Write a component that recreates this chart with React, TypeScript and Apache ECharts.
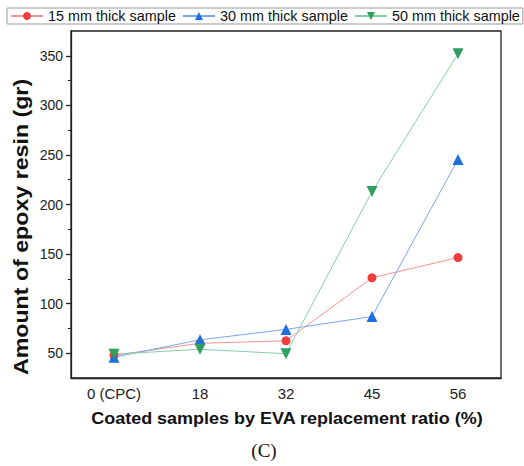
import React, { useEffect, useRef } from 'react';
import * as echarts from 'echarts';

const categories = ['0 (CPC)', '18', '32', '45', '56'];
const seriesNames = ['15 mm thick sample', '30 mm thick sample', '50 mm thick sample'];
const sample15 = [48, 60, 62.5, 126, 146.5];
const sample30 = [46, 63.5, 74, 87, 245.5];
const sample50 = [49, 54, 49.5, 213, 352];
const yMajorTicks = [50, 100, 150, 200, 250, 300, 350];
const yMinorTicks = [75, 125, 175, 225, 275, 325];

const FONT = '"Liberation Sans", Arial, sans-serif';

export default function App() {
  const ref = useRef<HTMLDivElement>(null);
  useEffect(() => {
    document.body.style.margin = '0';
    const chart = echarts.init(ref.current!, null, { renderer: 'svg' });
    const mk = (name: string, data: number[], marker: string, line: string, symbol: string, size: number, rotate = 0) => ({
      name,
      type: 'line',
      data,
      symbol,
      symbolSize: size,
      symbolRotate: rotate,
      showAllSymbol: true,
      itemStyle: { color: marker },
      lineStyle: { color: line, width: 1 },
      emphasis: { disabled: true },
    });
    chart.setOption({
      animation: false,
      backgroundColor: '#fff',
      legend: {
        left: 7,
        top: 8,
        padding: [1, 3],
        itemWidth: 32,
        itemHeight: 10,
        itemGap: 6,
        borderColor: '#999',
        borderWidth: 1,
        textStyle: { fontFamily: FONT, fontSize: 14.4, color: '#111' },
        data: seriesNames,
      },
      grid: {
        left: 71,
        right: 23,
        top: 31,
        bottom: 88,
        show: true,
        borderColor: '#222',
        borderWidth: 1.3,
      },
      xAxis: {
        type: 'category',
        data: categories,
        boundaryGap: true,
        axisLine: { lineStyle: { color: '#222', width: 1.3 } },
        axisTick: { alignWithLabel: true, length: 5, lineStyle: { color: '#222', width: 1.3 } },
        axisLabel: { fontFamily: FONT, fontSize: 15, color: '#222', margin: 8 },
        splitLine: { show: false },
      },
      yAxis: [
        {
          type: 'value',
          min: 25,
          max: 375,
          position: 'left',
          axisLine: { show: true, lineStyle: { color: '#222', width: 1.3 } },
          axisTick: { show: true, length: 5, customValues: yMajorTicks, lineStyle: { color: '#222', width: 1.3 } },
          axisLabel: { fontFamily: FONT, fontSize: 14, color: '#222', margin: 8, customValues: yMajorTicks },
          splitLine: { show: false },
        },
        {
          type: 'value',
          min: 25,
          max: 375,
          position: 'left',
          offset: 0,
          axisLine: { show: false },
          axisTick: { show: true, length: 3, customValues: yMinorTicks, lineStyle: { color: '#222', width: 1.1 } },
          axisLabel: { show: false },
          splitLine: { show: false },
        },
      ],
      series: [
        mk(seriesNames[0], sample15, '#f23d3d', '#f79292', 'circle', 9),
        mk(seriesNames[1], sample30, '#1f6ee0', '#78a6ee', 'triangle', 11),
        mk(seriesNames[2], sample50, '#2f9e5f', '#86cfa3', 'triangle', 11, 180),
      ],
      graphic: [
        {
          type: 'text',
          x: 21,
          y: 227,
          rotation: Math.PI / 2,
          scaleX: 1.16,
          style: {
            text: 'Amount of epoxy resin (gr)',
            font: `bold 20px ${FONT}`,
            fill: '#111',
            align: 'center',
            verticalAlign: 'middle',
          },
        },
        {
          type: 'text',
          x: 287,
          y: 418,
          scaleX: 1.09,
          style: {
            text: 'Coated samples by EVA replacement ratio (%)',
            font: `bold 16.5px ${FONT}`,
            fill: '#111',
            align: 'center',
            verticalAlign: 'middle',
          },
        },
        {
          type: 'text',
          x: 264,
          y: 450,
          style: {
            text: '(C)',
            font: '19px "Liberation Serif", "Times New Roman", serif',
            fill: '#111',
            align: 'center',
            verticalAlign: 'middle',
          },
        },
      ],
    });
    return () => chart.dispose();
  }, []);
  return <div ref={ref} style={{ width: 524, height: 466, position: 'absolute', left: 0, top: 0 }} />;
}
